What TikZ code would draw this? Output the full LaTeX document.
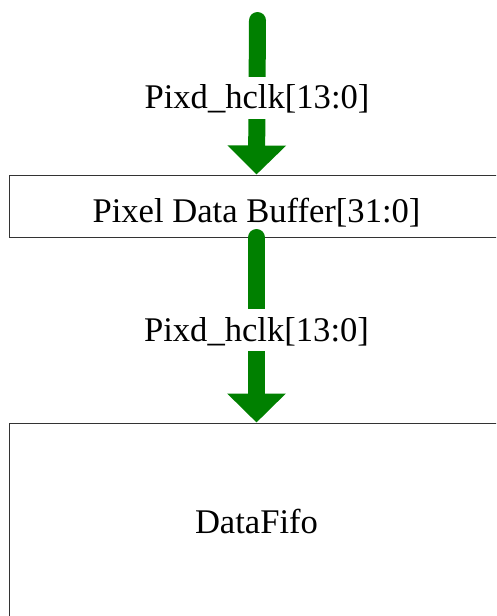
\documentclass[tikz,border=0pt]{standalone}
\usepackage{fontspec}
\setmainfont{Liberation Serif}
\usetikzlibrary{arrows.meta}
\definecolor{sigGreen}{RGB}{0,128,0}
\begin{document}
\begin{tikzpicture}[x=1pt,y=-1pt,
  blockbox/.style={draw=black!80, line width=1pt, rectangle, inner sep=0pt, font=\fontsize{34.6}{40}\selectfont},
  sigarrow/.style={draw=sigGreen, line width=17pt, line cap=round, -{Triangle[length=29pt,width=57pt]}},
  siglabel/.style={fill=white, inner xsep=3pt, inner ysep=5.5pt, text height=26.5pt, text depth=4.5pt, font=\fontsize{34.6}{40}\selectfont}
]
\useasboundingbox (0,0) rectangle (496,616);
\clip (0,0) rectangle (496,616);
\node[blockbox, minimum width=494pt, minimum height=62pt, text height=33.4pt, text depth=0pt] (buf) at (256.5,206) {Pixel Data Buffer[31:0]};
\node[blockbox, minimum width=494pt, minimum height=198pt, text height=22.6pt, text depth=0pt] (fifo) at (256.5,522) {DataFifo};
\coordinate (src) at (257.5,20.5);
\draw[sigarrow] (src) -- node[siglabel] (lab1) {Pixd\_hclk[13:0]} (buf.north);
\draw[sigarrow] (buf.south) -- node[siglabel] (lab2) {Pixd\_hclk[13:0]} (fifo.north);
\end{tikzpicture}
\end{document}
